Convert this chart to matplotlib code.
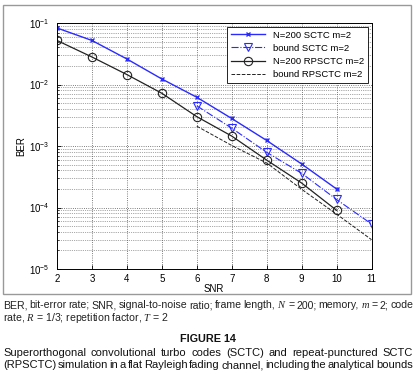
import matplotlib
matplotlib.use("Agg")
import matplotlib.pyplot as plt
from matplotlib.patches import Rectangle

plt.rcParams['font.family'] = ['Liberation Sans', 'DejaVu Sans']
plt.rcParams['mathtext.fontset'] = 'custom'
plt.rcParams['mathtext.rm'] = 'Liberation Sans'
plt.rcParams['mathtext.it'] = 'Liberation Serif:italic'

snr_sim = [2, 3, 4, 5, 6, 7, 8, 9, 10]
ber_sctc = [0.083, 0.052, 0.026, 0.0123, 0.0062, 0.0028, 0.00123, 0.00051, 0.0002]
ber_rpsctc = [0.052, 0.028, 0.0145, 0.0072, 0.0030, 0.00145, 0.00059, 0.00025, 0.00009]

snr_bound = [6, 7, 8, 9, 10, 11]
bound_sctc = [0.0045, 0.00195, 0.00079, 0.00036, 0.000135, 0.000054]
bound_rpsctc = [0.0021, 0.00102, 0.00053, 0.000198, 0.000078, 0.00003]

fig = plt.figure(figsize=(4.17, 3.74), dpi=100)
W, H = 417, 374

# grey frame around the plot panel
fig.patches.append(Rectangle((3/W, 1 - 294/H), 408/W, 289/H,
                             transform=fig.transFigure, fill=False,
                             edgecolor='#999999', linewidth=1.0))

ax = fig.add_axes([57/W, 1 - 269/H, 314.5/W, 246/H])

blue = '#2a2aff'
ax.plot(snr_sim, ber_sctc, '-x', color=blue, lw=1.0, ms=3, mew=1.0,
        label='N=200 SCTC m=2')
ax.plot(snr_bound, bound_sctc, '-.v', color=blue, lw=0.8, ms=6,
        mfc='none', mew=0.8, label='bound SCTC m=2')
ax.plot(snr_sim, ber_rpsctc, '-o', color='#222222', lw=0.9, ms=6,
        mfc='none', mew=0.8, label='N=200 RPSCTC m=2')
ax.plot(snr_bound, bound_rpsctc, '--', color='#222222', lw=0.7,
        label='bound RPSCTC m=2')

ax.set_yscale('log')
ax.set_xlim(2, 11)
ax.set_ylim(1e-5, 1e-1)
ax.set_xticks(range(2, 12))
ax.tick_params(labelsize=7, direction='in', length=3, width=0.6)
ax.tick_params(axis='y', pad=5.5)
ax.tick_params(which='minor', direction='in', length=1.5, width=0.5)
ax.grid(True, which='major', linestyle=':', color='#555555', lw=0.6)
ax.grid(True, which='minor', axis='y', linestyle=':', color='#555555', lw=0.5)
for s in ax.spines.values():
    s.set_linewidth(0.7)
ax.set_xlabel('SNR', fontsize=7, labelpad=0)
ax.set_ylabel('BER', fontsize=7, labelpad=2)

leg = ax.legend(loc='upper right', fontsize=6.8, fancybox=False,
                edgecolor='black', framealpha=1, handlelength=3.6,
                borderaxespad=0.4, labelspacing=0.45)
leg.get_frame().set_linewidth(0.6)

renderer = fig.canvas.get_renderer()


def justified(line, y, size, x0=3, x1=413, color='#222222'):
    # place words one by one so the line fills x0..x1
    words = line.split(' ')
    texts = [fig.text(0, 1 - y/H, w, fontsize=size, va='baseline',
                      ha='left', color=color) for w in words]
    widths = [t.get_window_extent(renderer).width for t in texts]
    gap = max((x1 - x0 - sum(widths)) / (len(words) - 1), 0.8)
    x = x0
    for t, w in zip(texts, widths):
        t.set_x(x / W)
        x += w + gap


justified('BER, bit-error rate; SNR, signal-to-noise ratio; frame length, '
          '$N$ = 200; memory, $m$ = 2; code', 308, 7.6)
fig.text(3/W, 1 - 321/H, 'rate, $R$ = 1/3; repetition factor, $T$ = 2',
         fontsize=7.6, va='baseline', ha='left', color='#222222')
fig.text(0.5, 1 - 339/H, 'FIGURE 14', fontsize=7.8, fontweight='bold',
         va='center', ha='center', color='#111111')
justified('Superorthogonal convolutional turbo codes (SCTC) and '
          'repeat-punctured SCTC', 355.5, 8.0, color='#111111')
justified('(RPSCTC) simulation in a flat Rayleigh fading channel, '
          'including the analytical bounds', 368.5, 8.0, color='#111111')

fig.savefig('out.png', dpi=100)
